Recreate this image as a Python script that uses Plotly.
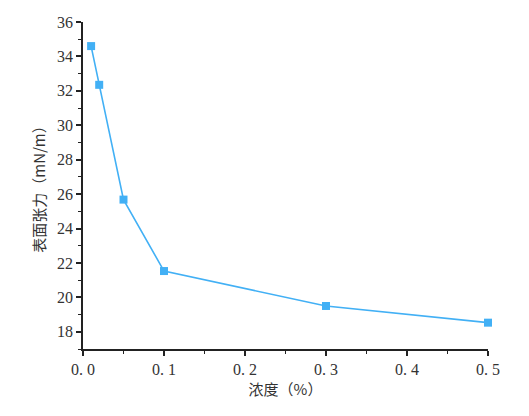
import plotly.graph_objects as go

concentration = [0.01, 0.02, 0.05, 0.1, 0.3, 0.5]
surface_tension = [34.6, 32.35, 25.68, 21.53, 19.5, 18.53]
x_tickvals = [0.0, 0.1, 0.2, 0.3, 0.4, 0.5]
x_ticktext = ["0. 0", "0. 1", "0. 2", "0. 3", "0. 4", "0. 5"]
y_tickvals = [18, 20, 22, 24, 26, 28, 30, 32, 34, 36]

color = "#42B0F5"
fontfam = "Liberation Serif"
cjkfam = "Noto Sans CJK SC"

fig = go.Figure()
fig.add_trace(go.Scatter(
    x=concentration, y=surface_tension, mode="lines+markers",
    line=dict(color=color, width=1.6),
    marker=dict(symbol="square", size=8, color=color),
    showlegend=False, cliponaxis=False,
))

axis_common = dict(
    showline=True, linecolor="#222", linewidth=1.5,
    ticks="outside", ticklen=5, tickwidth=1.5, tickcolor="#222",
    showgrid=False, zeroline=False, mirror=False, automargin=False,
)

fig.update_xaxes(
    range=[0, 0.5], tickvals=x_tickvals, ticktext=x_ticktext,
    tickfont=dict(family=fontfam, size=16, color="#333"),
    minor=dict(ticks="outside", ticklen=3, tickwidth=1.2, tickcolor="#222", dtick=0.05, tick0=0),
    title=dict(text="浓度（%）", font=dict(family=cjkfam, size=15, color="#333"), standoff=6),
    **axis_common,
)
fig.update_yaxes(
    range=[17, 36], tickvals=y_tickvals,
    tickfont=dict(family=fontfam, size=16, color="#333"),
    minor=dict(ticks="outside", ticklen=3, tickwidth=1.2, tickcolor="#222", dtick=1, tick0=0),
    title=dict(text="表面张力（mN/m）", font=dict(family=cjkfam, size=15, color="#333"), standoff=8),
    **axis_common,
)

fig.update_layout(
    width=529, height=416,
    margin=dict(l=83, r=41, t=22, b=67),
    paper_bgcolor="white", plot_bgcolor="white",
    font=dict(family=fontfam),
)

fig.write_html("out.html", config={"displayModeBar": False},
               post_script="document.body.style.margin='0';")
